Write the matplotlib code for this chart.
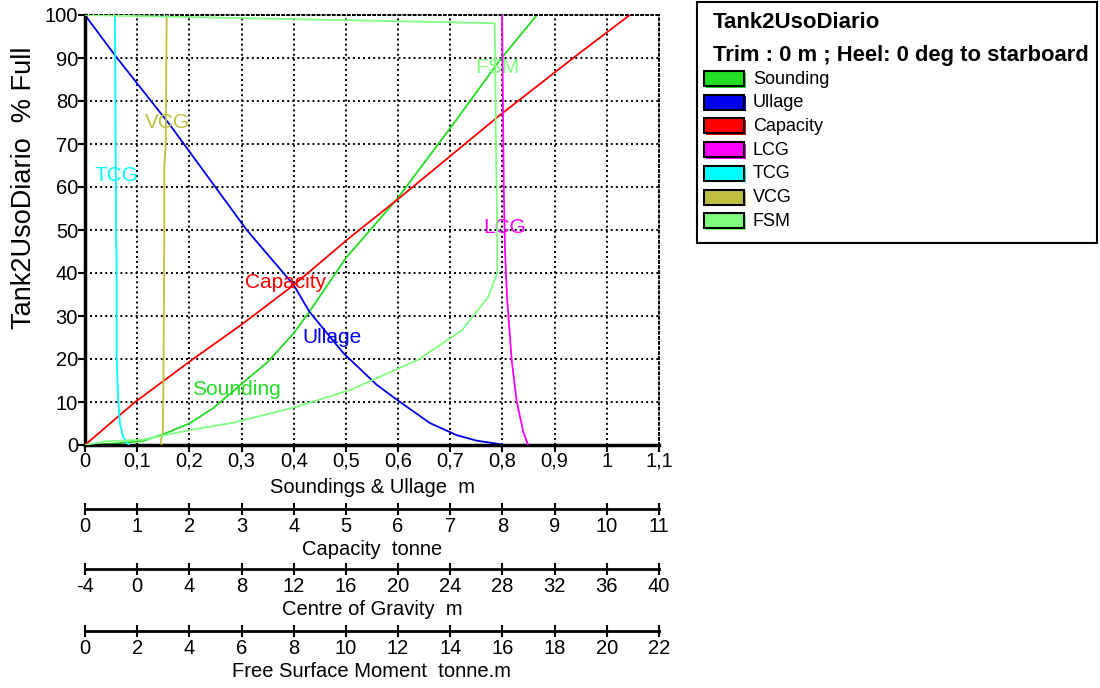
import matplotlib
matplotlib.use("Agg")
import matplotlib.pyplot as plt
from matplotlib.patches import Rectangle

plt.rcParams["font.family"] = ["Liberation Sans", "DejaVu Sans"]
plt.rcParams["axes.unicode_minus"] = False

# ---- data (percent full vs value) ----
sounding_pct = [0, 0.3, 0.9, 2.5, 5, 8.6, 14.2, 19.3, 26, 31, 43.5, 57.2, 73.7, 89.5, 100]
sounding_m = [0, 0.05, 0.11, 0.15, 0.2, 0.246, 0.30, 0.35, 0.40, 0.43, 0.50, 0.598, 0.70, 0.795, 0.866]

ullage_pct = [100, 90.7, 74.4, 50, 37.2, 31, 21.4, 14, 10.5, 5.1, 2.3, 1.0, 0.2, 0]
ullage_m = [0, 0.057, 0.163, 0.31, 0.40, 0.43, 0.495, 0.559, 0.598, 0.661, 0.712, 0.751, 0.795, 0.80]

capacity_pct = [0, 10, 19.8, 28, 37.2, 48, 57.2, 76.7, 90.7, 100]
capacity_t = [0, 0.96, 2.05, 3.0, 4.0, 5.05, 6.0, 7.95, 9.43, 10.44]

lcg_pct = [0, 3, 10, 20, 34.4, 45, 60, 100]
lcg_m = [29.96, 29.6, 29.1, 28.7, 28.35, 28.2, 28.1, 27.97]

tcg_pct = [0, 1, 2, 5, 10, 20, 40, 50, 100]
tcg_m = [-0.63, -0.86, -1.09, -1.32, -1.45, -1.57, -1.57, -1.62, -1.70]

vcg_pct = [0, 1, 3, 10, 40, 50, 65, 70, 100]
vcg_m = [1.88, 1.82, 1.96, 2.0, 2.06, 2.08, 2.08, 2.19, 2.26]

fsm_pct = [0, 0.9, 1.2, 2.2, 3.4, 5.2, 8.9, 12.8, 19.8, 26.7, 34.4, 40, 50, 70, 90, 98.1, 100]
fsm_tm = [0, 0.83, 2.2, 3.0, 3.96, 5.69, 8.12, 10.16, 12.76, 14.45, 15.45, 15.8, 15.8, 15.75, 15.72, 15.7, 0]

series_names = ["Sounding", "Ullage", "Capacity", "LCG", "TCG", "VCG", "FSM"]
series_colors = ["#22dd22", "#0000ee", "#ff0000", "#ff00ff", "#00ffff", "#c0c040", "#80ff80"]

y_ticks = list(range(0, 101, 10))
x_ticks = [i / 10 for i in range(12)]
x_tick_labels = ["0", "0,1", "0,2", "0,3", "0,4", "0,5", "0,6", "0,7", "0,8", "0,9", "1", "1,1"]
cap_ticks = list(range(0, 12))
cg_ticks = list(range(-4, 41, 4))
fsm_ticks = list(range(0, 23, 2))

TICK_FS = 14.5
LABEL_FS = 14.5

fig = plt.figure(figsize=(11, 6.88), dpi=100)
ax = fig.add_axes([85 / 1100, 243 / 688, 574 / 1100, 430 / 688])
ax.set_xlim(0, 1.1)
ax.set_ylim(0, 100)

# dotted grid
dots = (0, (1, 1.6))
ax.set_xticks(x_ticks)
ax.set_xticklabels(x_tick_labels)
ax.set_yticks(y_ticks)
ax.grid(True, color="black", linestyle=dots, linewidth=1.4)
for side in ["top", "right"]:
    ax.spines[side].set_linestyle(dots)
    ax.spines[side].set_linewidth(1.4)
ax.spines["left"].set_linewidth(2.5)
ax.spines["bottom"].set_linewidth(2.5)
ax.tick_params(axis="both", labelsize=TICK_FS, length=5, width=1.5, direction="out", pad=0)
ax.set_xlabel("Soundings & Ullage  m", fontsize=LABEL_FS, labelpad=5)
fig.text(24 / 1100, 1 - 188 / 688, "Tank2UsoDiario  % Full", rotation=90,
         fontsize=19.5, ha="center", va="center")

# hidden axes sharing y for each quantity's own x scale
def overlay(xlo, xhi):
    a = ax.twiny()
    a.set_xlim(xlo, xhi)
    a.axis("off")
    return a

ax_cap = overlay(0, 11)
ax_cg = overlay(-4, 40)
ax_fsm = overlay(0, 22)

lw = 1.3
ax.plot(sounding_m, sounding_pct, color=series_colors[0], lw=lw)
ax.plot(ullage_m, ullage_pct, color=series_colors[1], lw=lw)
ax_cap.plot(capacity_t, capacity_pct, color=series_colors[2], lw=lw)
ax_cg.plot(lcg_m, lcg_pct, color=series_colors[3], lw=lw)
ax_cg.plot(tcg_m, tcg_pct, color=series_colors[4], lw=lw)
ax_cg.plot(vcg_m, vcg_pct, color=series_colors[5], lw=lw)
ax_fsm.plot(fsm_tm, fsm_pct, color=series_colors[6], lw=lw)

# curve labels (positions in main axes coords)
label_pos = [(0.291, 12.8), (0.473, 25.1), (0.385, 37.7), (0.805, 50.5),
             (0.061, 62.6), (0.157, 74.9), (0.79, 87.7)]
for name, col, (lx, ly) in zip(series_names, series_colors, label_pos):
    ax.text(lx, ly, name, color=col, fontsize=15, ha="center", va="center", zorder=5)

# secondary scales below
def sec_axis(loc, fwd, inv, ticks, label):
    s = ax.secondary_xaxis(loc, functions=(fwd, inv))
    s.set_xticks(ticks)
    s.tick_params(labelsize=TICK_FS, length=8, width=1.5, direction="inout", pad=2)
    s.spines["bottom"].set_linewidth(2)
    s.set_xlabel(label, fontsize=LABEL_FS, labelpad=2.5)
    return s

sec_axis((445 - 509) / 430, lambda x: x * 10, lambda x: x / 10, cap_ticks, "Capacity  tonne")
sec_axis((445 - 569) / 430, lambda x: x * 40 - 4, lambda x: (x + 4) / 40, cg_ticks,
         "Centre of Gravity  m")
sec_axis((445 - 631) / 430, lambda x: x * 20, lambda x: x / 20, fsm_ticks,
         "Free Surface Moment  tonne.m")

# legend box in pixel coordinates
lg = fig.add_axes([0, 0, 1, 1], facecolor="none")
lg.set_xlim(0, 1100)
lg.set_ylim(688, 0)
lg.axis("off")
lg.add_patch(Rectangle((697, 2), 400, 241, fill=False, edgecolor="black", lw=1.5))
lg.text(713, 23, "Tank2UsoDiario", fontsize=16, fontweight="bold", va="center")
lg.text(713, 55, "Trim : 0 m ; Heel: 0 deg to starboard", fontsize=15.8,
        fontweight="bold", va="center")
for i, (name, col) in enumerate(zip(series_names, series_colors)):
    yc = 79 + i * 23.7
    lg.add_patch(Rectangle((706, yc - 6.5), 40, 15, facecolor=col, edgecolor="none"))
    lg.add_patch(Rectangle((704, yc - 8), 40, 15, facecolor=col, edgecolor="black", lw=1.5))
    lg.text(753, yc, name, fontsize=13, va="center")

fig.savefig("out.png", dpi=100)
